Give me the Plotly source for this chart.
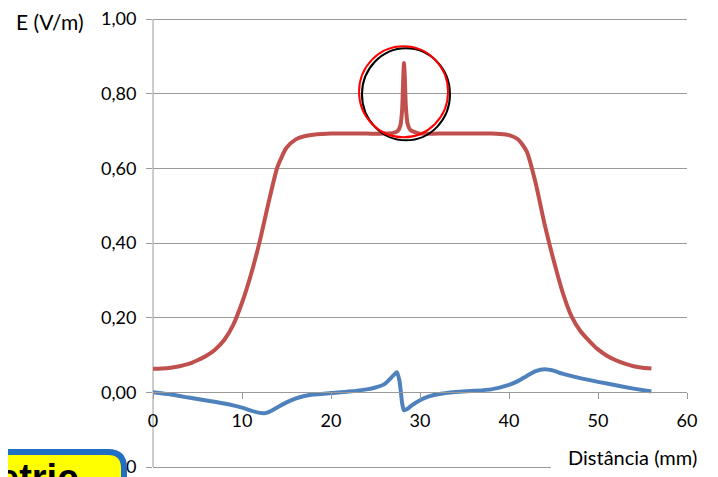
import plotly.graph_objects as go

# ---- data ----
red_x = [0, 1, 2, 3, 4, 5, 6, 7, 8, 9, 10, 11, 12, 13, 14, 15, 16, 17, 18, 19, 20, 22, 24, 26, 27,
         27.5, 27.8, 28.0, 28.1, 28.2, 28.3, 28.4, 28.6, 28.9, 29.5, 30, 32, 34, 36, 38, 39, 40,
         41, 42, 43, 44, 45, 46, 47, 48, 49, 50, 51, 52, 53, 54, 55, 56]
red_y = [0.063, 0.064, 0.066, 0.070, 0.076, 0.086, 0.098, 0.115, 0.140, 0.180, 0.240, 0.315, 0.405, 0.510, 0.605, 0.655, 0.677, 0.686, 0.690, 0.692, 0.693, 0.693, 0.693, 0.693, 0.695,
         0.700, 0.715, 0.760, 0.830, 0.882, 0.840, 0.770, 0.720, 0.703, 0.696, 0.693, 0.693, 0.693, 0.693, 0.693, 0.692, 0.689,
         0.678, 0.645, 0.560, 0.450, 0.355, 0.270, 0.205, 0.165, 0.138, 0.115, 0.098, 0.086, 0.077, 0.070, 0.066, 0.064]

blue_x = [0, 2, 4, 6, 8, 10, 11, 12, 12.5, 13, 14, 15, 16, 17, 18, 20, 22, 24, 25, 26, 26.8, 27.4,
          27.7, 28.0, 28.2, 28.6, 29, 30, 31, 32, 34, 36, 38, 40, 41, 42, 43, 44, 45, 46, 48, 50, 52, 54, 56]
blue_y = [0.000, -0.006, -0.014, -0.022, -0.030, -0.041, -0.049, -0.055, -0.056, -0.053, -0.040, -0.027, -0.017, -0.010, -0.006, -0.002, 0.002, 0.008, 0.013, 0.022, 0.040, 0.054,
          0.030, -0.030, -0.048, -0.044, -0.036, -0.021, -0.011, -0.005, 0.001, 0.004, 0.008, 0.020, 0.030, 0.044, 0.057, 0.062, 0.058, 0.050, 0.038, 0.028, 0.019, 0.010, 0.002]

x_ticks = [0, 10, 20, 30, 40, 50, 60]
y_ticks = [-0.2, 0.0, 0.2, 0.4, 0.6, 0.8, 1.0]

RED = "#C0504D"
BLUE = "#4F81BD"
GRID = "#9a9a9a"
FONT = "Lato"

OFF = 8  # default page body margin
PADPX = 2  # extra pixels so the edge gridlines are not clipped
W, H = 718 - OFF, 477 - OFF
ML, MR, MT, MB = 153 - OFF, 31, 19 - OFF - PADPX, 10 - PADPX
PW, PH = W - ML - MR, H - MT - MB
YMIN, YMAX = -0.2, 1.0
E = PADPX * (YMAX - YMIN) / (PH - 2 * PADPX)
Y0, Y1 = YMIN - E, YMAX + E

def px(xp):  # page pixel -> paper fraction
    return (xp - OFF - ML) / PW

def py(yp):
    return (H - MB - (yp - OFF)) / PH

fig = go.Figure()
fig.add_trace(go.Scatter(x=red_x, y=red_y, mode="lines",
                         line=dict(color=RED, width=4, shape="spline", smoothing=0.6),
                         hoverinfo="skip", showlegend=False))
fig.add_trace(go.Scatter(x=blue_x, y=blue_y, mode="lines",
                         line=dict(color=BLUE, width=4, shape="spline", smoothing=0.6),
                         hoverinfo="skip", showlegend=False))

# circles around the peak
fig.add_shape(type="circle", xref="x", yref="y", x0=23.48, x1=33.37, y0=0.675, y1=0.9215,
              line=dict(color="black", width=2))
fig.add_shape(type="circle", xref="x", yref="y", x0=23.15, x1=33.15, y0=0.683, y1=0.927,
              line=dict(color="#FF0000", width=2))

# white box behind x-axis title (covers bottom gridline)
fig.add_shape(type="rect", xref="paper", yref="paper", x0=px(551), x1=px(720), y0=py(480), y1=py(446),
              fillcolor="white", line=dict(width=0), layer="above")

# yellow rounded callout box at bottom-left (cropped)
r = 16
xl, xr, yt, yb = -10, 124, 452, 500
path = (f"M {px(xl)},{py(yb)} L {px(xl)},{py(yt)} L {px(xr - r)},{py(yt)} "
        f"Q {px(xr)},{py(yt)} {px(xr)},{py(yt + r)} L {px(xr)},{py(yb)} Z")
fig.add_shape(type="path", xref="paper", yref="paper", path=path,
              fillcolor="#FFFF00", line=dict(color="#1F6FC5", width=6), layer="above")

fig.add_annotation(x=px(-4), y=py(455), xref="paper", yref="paper", text="<b>etric</b>",
                   showarrow=False, xanchor="left", yanchor="top",
                   font=dict(family="Liberation Sans", size=38, color="black"))

fig.add_annotation(x=px(50), y=py(22), xref="paper", yref="paper", text="E (V/m)",
                   showarrow=False, xanchor="center", yanchor="middle",
                   font=dict(family=FONT, size=21, color="black"))
fig.add_annotation(x=px(632), y=py(457), xref="paper", yref="paper", text="Distância (mm)",
                   showarrow=False, xanchor="center", yanchor="middle",
                   font=dict(family=FONT, size=20, color="black"))

fig.update_layout(
    width=W, height=H,
    margin=dict(l=ML, r=MR, t=MT, b=MB, autoexpand=False),
    paper_bgcolor="white", plot_bgcolor="white",
    separators=", ",
    font=dict(family=FONT, size=17, color="black"),
    xaxis=dict(range=[0, 60], tickvals=x_ticks, showgrid=False, zeroline=False,
               showline=True, linecolor=GRID, linewidth=1, automargin=False,
               ticks="outside", ticklen=6, tickcolor=GRID,
               anchor="free", position=(0 - Y0) / (Y1 - Y0), ticklabelstandoff=6,
               ticklabeloverflow="allow",
               tickfont=dict(family=FONT, size=18)),
    yaxis=dict(range=[Y0, Y1], tickvals=y_ticks, tickformat=".2f",
               showgrid=True, gridcolor=GRID, gridwidth=1, zeroline=False,
               showline=False, automargin=False,
               ticks="outside", ticklen=6, tickcolor=GRID, ticklabelstandoff=6,
               ticklabeloverflow="allow",
               domain=[0, 1], tickfont=dict(family=FONT, size=18)),
)

# y-axis line from -0.20 to 1.00 (plot area without the padding)
fig.add_shape(type="line", xref="paper", yref="y", x0=0, x1=0, y0=YMIN, y1=YMAX,
              line=dict(color=GRID, width=1), layer="below")

fig.write_html("out.html")
